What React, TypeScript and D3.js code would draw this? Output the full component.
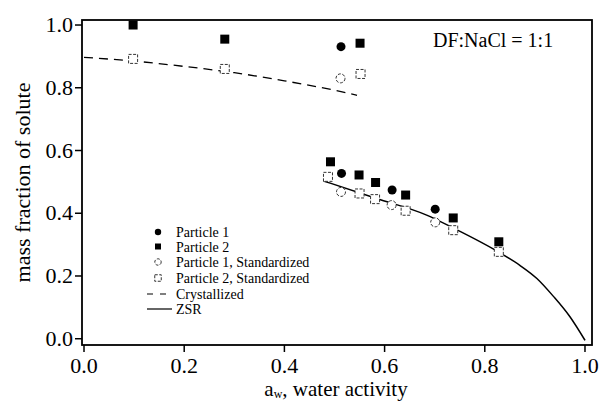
import React from 'react';
import * as d3 from 'd3';

// values
const p1Aw = [0.513, 0.514, 0.615, 0.701];
const p1Mf = [0.931, 0.527, 0.474, 0.413];
const p2Aw = [0.098, 0.281, 0.551, 0.492, 0.549, 0.582, 0.642, 0.737, 0.828];
const p2Mf = [1.0, 0.955, 0.942, 0.564, 0.522, 0.498, 0.458, 0.385, 0.309];
const p1StdAw = [0.512, 0.513, 0.614, 0.701];
const p1StdMf = [0.83, 0.468, 0.426, 0.371];
const p2StdAw = [0.098, 0.281, 0.552, 0.487, 0.55, 0.581, 0.642, 0.737, 0.828];
const p2StdMf = [0.892, 0.86, 0.844, 0.516, 0.463, 0.445, 0.408, 0.346, 0.277];
const crystAw = [0, 0.1, 0.2, 0.3, 0.4, 0.5, 0.545];
const crystMf = [0.897, 0.885, 0.868, 0.848, 0.822, 0.792, 0.776];
const zsrAw = [0.478, 0.584, 0.684, 0.737, 0.83, 0.87, 0.904, 0.937, 0.97, 1.0];
const zsrMf = [0.503, 0.447, 0.394, 0.353, 0.274, 0.234, 0.192, 0.135, 0.07, -0.005];
const xTicks = [0, 0.2, 0.4, 0.6, 0.8, 1.0];
const yTicks = [0, 0.2, 0.4, 0.6, 0.8, 1.0];
const legendLabels = ['Particle 1', 'Particle 2', 'Particle 1, Standardized', 'Particle 2, Standardized', 'Crystallized', 'ZSR'];

const font = '"Liberation Serif", "Times New Roman", serif';

export default function App() {
  const width = 601, height = 402;
  const left = 82, right = 592, top = 20, bottom = 345;

  const x = d3.scaleLinear().domain([-0.004, 1.014]).range([left, right]);
  const y = d3.scaleLinear().domain([-0.02, 1.016]).range([bottom, top]);

  const pts = (xs: number[], ys: number[]) => xs.map((v, i) => [v, ys[i]] as [number, number]);

  const line = d3.line<[number, number]>()
    .x(d => x(d[0]))
    .y(d => y(d[1]))
    .curve(d3.curveMonotoneX);

  const filledCircle = (cx: number, cy: number, r: number, k: string) =>
    <circle key={k} cx={cx} cy={cy} r={r} fill="#000" />;
  const filledSquare = (cx: number, cy: number, s: number, k: string) =>
    <rect key={k} x={cx - s / 2} y={cy - s / 2} width={s} height={s} fill="#000" />;
  const openCircle = (cx: number, cy: number, r: number, k: string) =>
    <circle key={k} cx={cx} cy={cy} r={r} fill="#fff" stroke="#333" strokeWidth={1} strokeDasharray="3,1.5" />;
  const openSquare = (cx: number, cy: number, s: number, k: string) =>
    <rect key={k} x={cx - s / 2} y={cy - s / 2} width={s} height={s} fill="#fff" stroke="#333" strokeWidth={1} strokeDasharray="3,1.5" />;

  const legendX = 158, legendTextX = 176;
  const legendRows = [232, 246.5, 262, 278, 294, 309];

  return (
    <svg width={width} height={height} style={{ position: 'absolute', left: 0, top: 0, background: '#fff' }}
      fontFamily={font}>
      {/* frame */}
      <rect x={left} y={top} width={right - left} height={bottom - top} fill="none" stroke="#000" strokeWidth={1.8} />

      {/* y axis */}
      {yTicks.map(t => (
        <g key={'y' + t}>
          <line x1={left - 7} x2={left} y1={y(t)} y2={y(t)} stroke="#000" strokeWidth={1.5} />
          <text x={left - 9} y={y(t) + 7} fontSize={22} textAnchor="end">{t.toFixed(1)}</text>
        </g>
      ))}
      {/* x axis */}
      {xTicks.map(t => (
        <g key={'x' + t}>
          <line x1={x(t)} x2={x(t)} y1={bottom} y2={bottom + 7} stroke="#000" strokeWidth={1.5} />
          <text x={x(t)} y={bottom + 28} fontSize={22} textAnchor="middle">{t.toFixed(1)}</text>
        </g>
      ))}

      <text transform={`translate(30,${(top + bottom) / 2}) rotate(-90)`} fontSize={22} textAnchor="middle">
        mass fraction of solute
      </text>
      <text x={(left + right) / 2 - 1} y={396} fontSize={21} textAnchor="middle">
        a<tspan fontSize={12} dy={2}>w</tspan><tspan dy={-2}>, water activity</tspan>
      </text>

      <text x={433} y={47} fontSize={20}>DF:NaCl = 1:1</text>

      {/* lines */}
      <path d={line(pts(crystAw, crystMf)) || ''} fill="none" stroke="#000" strokeWidth={1.3} strokeDasharray="9,6" />
      <path d={line(pts(zsrAw, zsrMf)) || ''} fill="none" stroke="#000" strokeWidth={1.5} />

      {/* points */}
      {pts(p2StdAw, p2StdMf).map((d, i) => openSquare(x(d[0]), y(d[1]), 9, 'os' + i))}
      {pts(p1StdAw, p1StdMf).map((d, i) => openCircle(x(d[0]), y(d[1]), 4.5, 'oc' + i))}
      {pts(p2Aw, p2Mf).map((d, i) => filledSquare(x(d[0]), y(d[1]), 9, 'fs' + i))}
      {pts(p1Aw, p1Mf).map((d, i) => filledCircle(x(d[0]), y(d[1]), 4.5, 'fc' + i))}

      {/* legend */}
      {filledCircle(legendX, legendRows[0], 3.2, 'l0')}
      {filledSquare(legendX, legendRows[1], 6, 'l1')}
      {openCircle(legendX, legendRows[2], 3.2, 'l2')}
      {openSquare(legendX, legendRows[3], 6.5, 'l3')}
      <line x1={147} x2={172} y1={legendRows[4]} y2={legendRows[4]} stroke="#000" strokeWidth={1.2} strokeDasharray="6,7" />
      <line x1={147} x2={172} y1={legendRows[5]} y2={legendRows[5]} stroke="#000" strokeWidth={1.2} />
      {legendLabels.map((l, i) => (
        <text key={l} x={legendTextX} y={legendRows[i] + 5} fontSize={14}>{l}</text>
      ))}
    </svg>
  );
}
